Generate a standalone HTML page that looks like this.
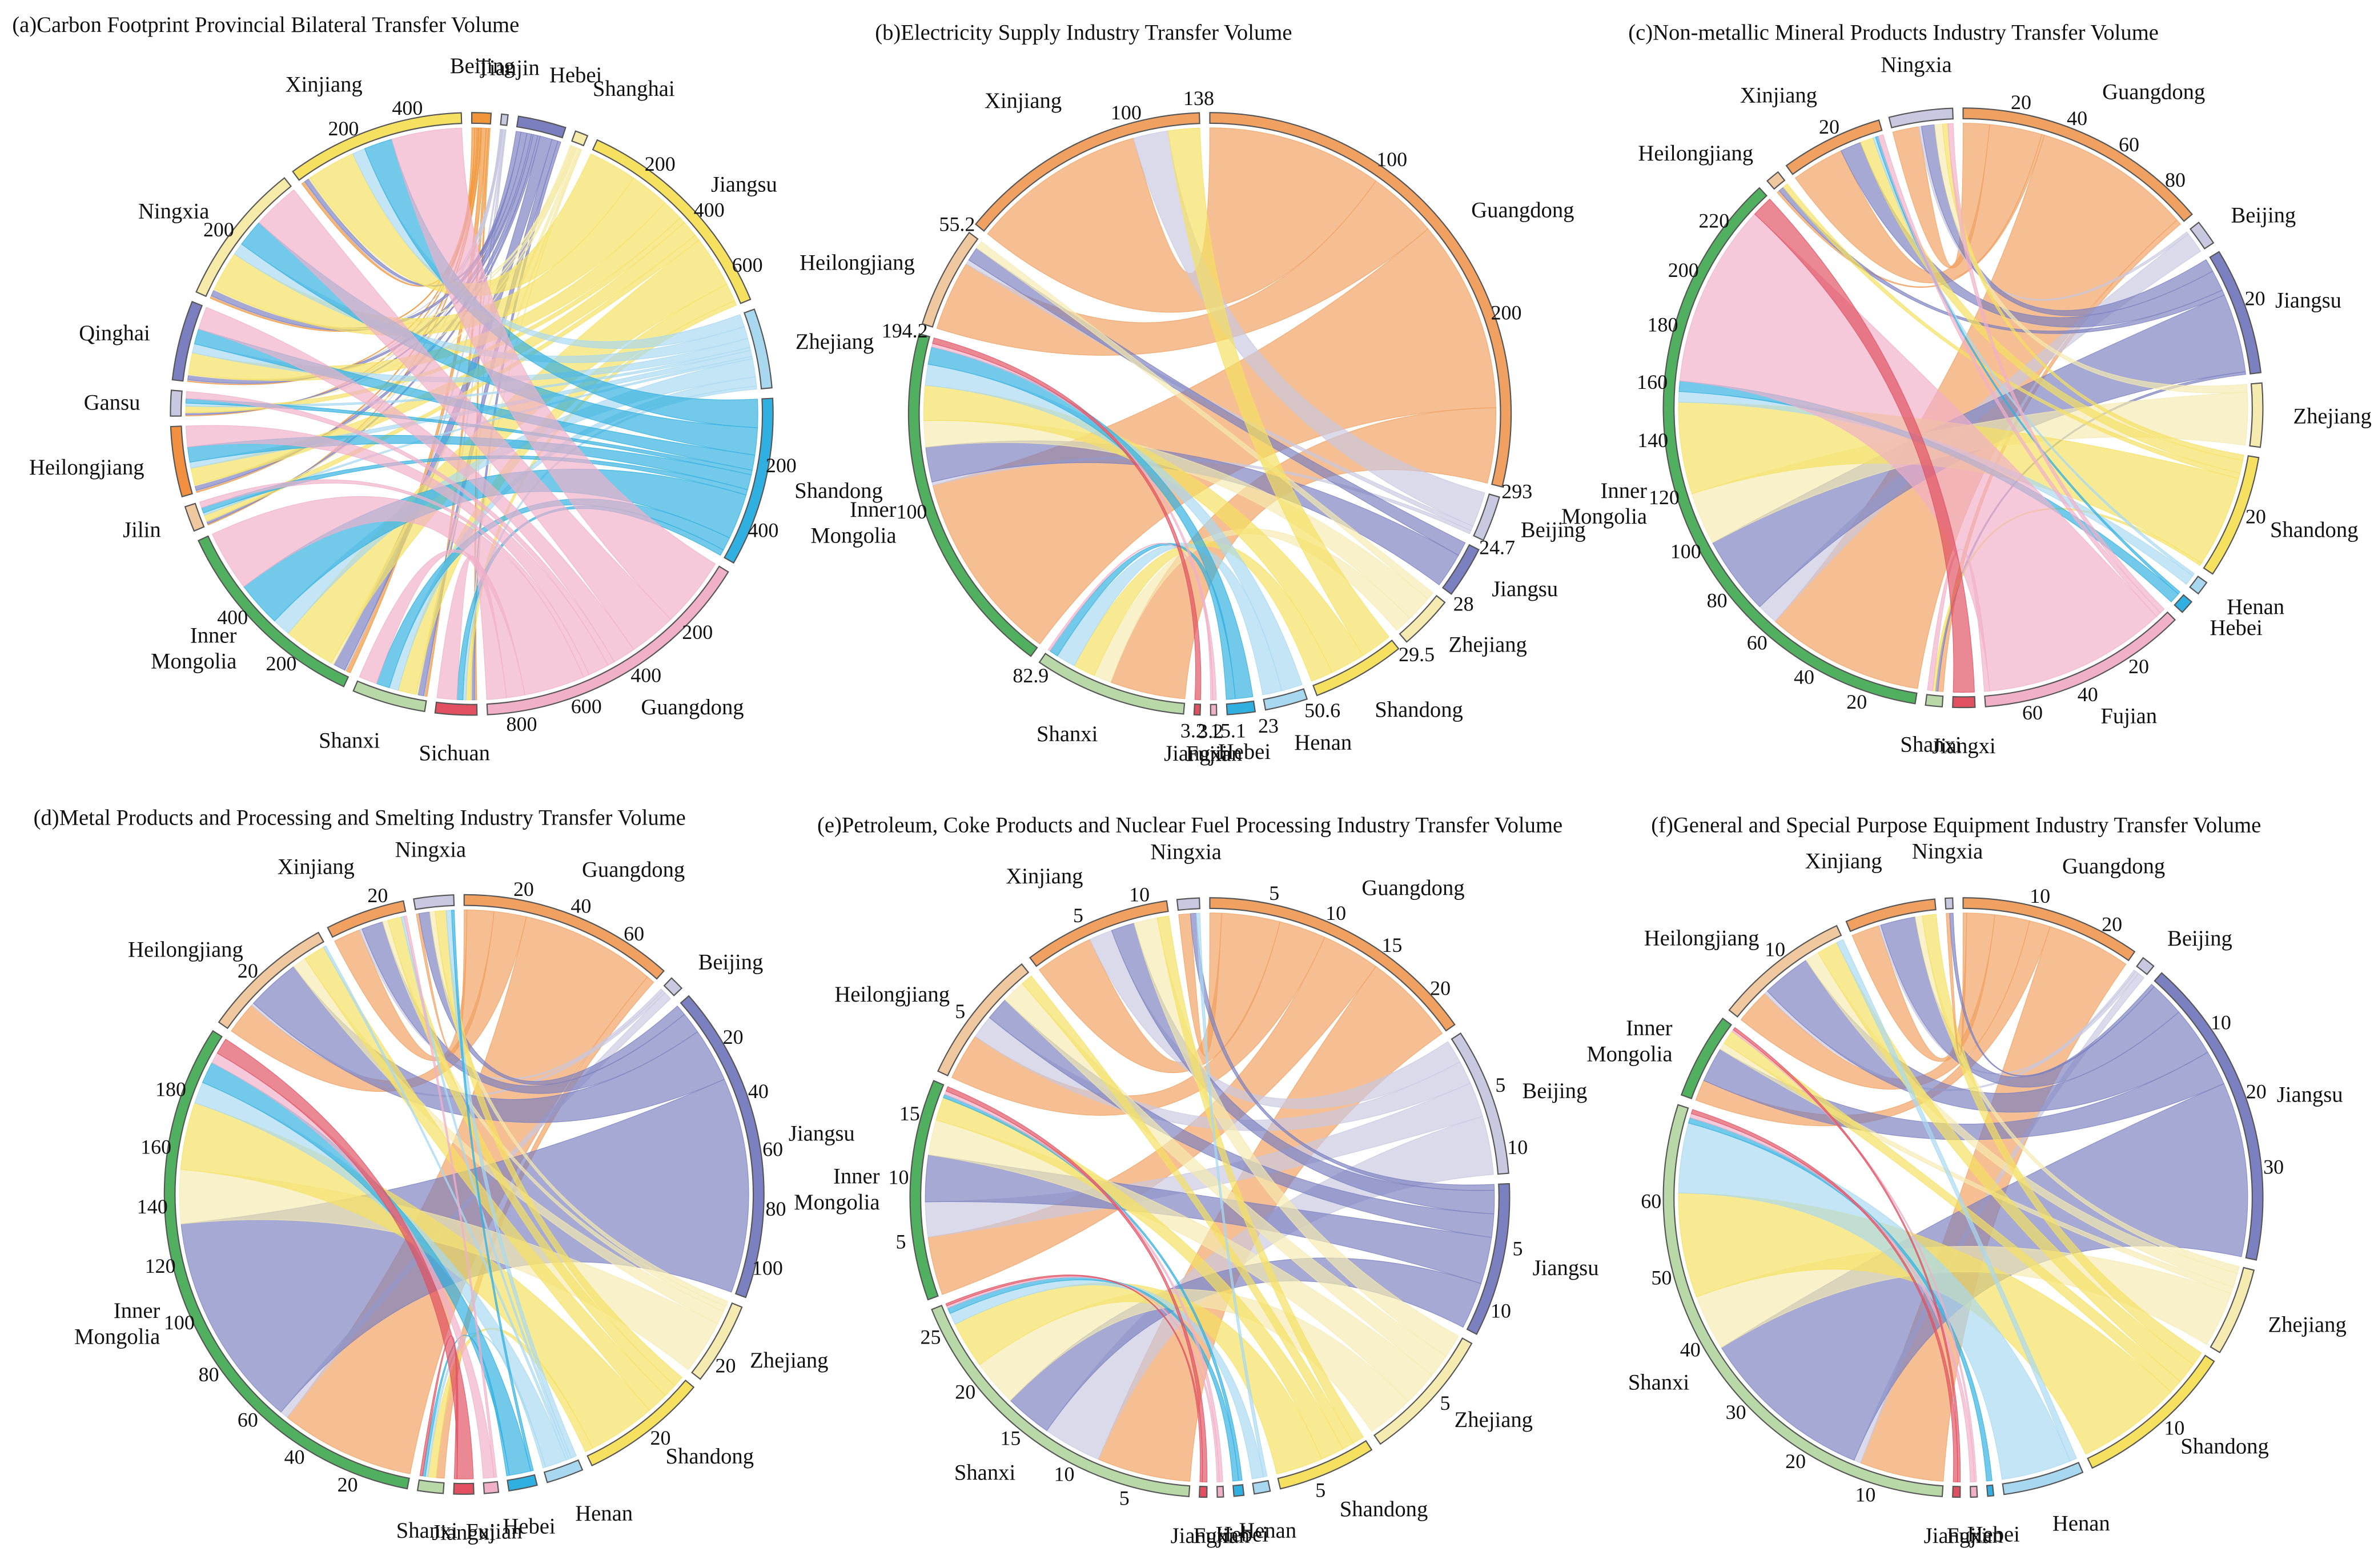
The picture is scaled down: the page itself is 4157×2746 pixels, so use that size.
<!DOCTYPE html>
<html><head><meta charset="utf-8"><style>
html,body{margin:0;padding:0;background:#fff;}
svg{display:block;font-family:"Liberation Serif",serif;}
</style></head><body>
<svg id="fig" width="4157" height="2746" viewBox="0 0 1560 1030.5" preserveAspectRatio="none" xmlns="http://www.w3.org/2000/svg"></svg>
<script>
// ---------- data ----------
const eastStd = ["Guangdong","Beijing","Jiangsu","Zhejiang","Shandong","Henan","Hebei","Fujian","Jiangxi"];
const westStd = ["Shanxi","Inner Mongolia","Heilongjiang","Xinjiang","Ningxia"];

const aEast = ["Beijing","Tianjin","Hebei","Shanghai","Jiangsu","Zhejiang","Shandong","Guangdong"];
const aWest = ["Sichuan","Shanxi","Inner Mongolia","Jilin","Heilongjiang","Gansu","Qinghai","Ningxia","Xinjiang"];
const aMatrix = [
 [5,2,10,3,15,10,20,65],
 [8,3,20,5,60,30,44,60],
 [15,5,40,10,170,60,150,200],
 [3,1,8,2,20,8,18,20],
 [5,2,15,4,55,20,50,69],
 [3,1,6,2,20,10,15,23],
 [4,2,15,4,70,30,50,75],
 [7,2,20,5,130,40,90,156],
 [10,2,16,5,160,42,93,232]
];
const bWest = ["Shanxi","Inner Mongolia","Heilongjiang","Xinjiang"];
const bMatrix = [
 [43,0,0,10,12.6,11,5.1,1.24,0],
 [110,2,20,15,20,12,10,2,3.24],
 [40,2.7,8,4.5,0,0,0,0,0],
 [100,20,0,0,18,0,0,0,0]
];
const cMatrix = [
 [2,0,1,0,1,0,0,2,0],
 [60,8,30,20,35,4,4,70,8],
 [1,0,2,0,2,0,0,0,0],
 [20,0,8,0,5,1,1,2,0],
 [10,1,5,3,2,0,0,2,0]
];
const dMatrix = [
 [3,0,0,0,3,1,1,0,1],
 [50,3,80,20,25,8,8,4,6],
 [12,1,20,5,8,1,0,0,0],
 [10,1,8,2,5,1,0,1,0],
 [1,0,4,2,4,2,1,0,0]
];
const eMatrix = [
 [8,5,4,4,4,1,0.5,0.2,0.2],
 [5,3,4,3,2,0,0.3,0.3,0.4],
 [4,2,2,2,1,0,0,0,0],
 [5,2,2,2,1,0,0,0,0],
 [1,0,0.5,0,0,0.3,0,0,0]
];
const fMatrix = [
 [12,1,25,8,15,10,0.8,0.6,0.6],
 [3,0,5,1,2,0,0,0.3,0.4],
 [5,0.5,7,2,3,1,0,0,0],
 [4,0.3,5,1,2,0,0,0,0],
 [0.5,0,0.5,0,0,0,0,0,0]
];
const aColors = {"Beijing":"#f0953a","Tianjin":"#c8c8e0","Hebei":"#7b7fc0","Shanghai":"#f5eaa8","Jiangsu":"#f5e060","Zhejiang":"#a8d8f0","Shandong":"#30b0e0","Guangdong":"#f0b0c8","Sichuan":"#e05060","Shanxi":"#b8d8a8","Inner Mongolia":"#50b060","Jilin":"#f0c8a0","Heilongjiang":"#f09040","Gansu":"#c8c8e0","Qinghai":"#7b7fc0","Ningxia":"#f5eaa8","Xinjiang":"#f5e060"};
const stdColors = {"Guangdong":"#f0a060","Beijing":"#c8c8e0","Jiangsu":"#7b80c0","Zhejiang":"#f5eab0","Shandong":"#f5e060","Henan":"#a8d8f0","Hebei":"#30b0e0","Fujian":"#f0b0c8","Jiangxi":"#e05060","Shanxi":"#b8d8a8","Inner Mongolia":"#50b060","Heilongjiang":"#f0c8a0","Xinjiang":"#f0a060","Ningxia":"#c8c8e0"};

// ---------- drawing ----------
const NS="http://www.w3.org/2000/svg";
const svg=document.getElementById('fig');
function mk(tag,attrs,parent){const e=document.createElementNS(NS,tag);for(const k in attrs)e.setAttribute(k,attrs[k]);(parent||svg).appendChild(e);return e;}
function slug(s){return s.toLowerCase().replace(/[^a-z0-9]+/g,'-');}

function panel(key,title,tx,ty,cx,cy,r,west,east,matrix,colors,step,showTotals){
  const g=mk('g',{});
  
  
  const t=mk('text',{x:tx,y:ty,'font-size':14.5,fill:'#111'},g);
  t.textContent=title;
  
  
  const order=east.concat(west);
  const tot={};
  east.forEach((n,j)=>{tot[n]=matrix.reduce((s,row)=>s+row[j],0);});
  west.forEach((n,i)=>{tot[n]=matrix[i].reduce((s,v)=>s+v,0);});
  const sum=order.reduce((s,n)=>s+tot[n],0);
  const gap=2*Math.PI/180;
  const k=(2*Math.PI-gap*order.length)/sum;
  const start={};let a=0;
  order.forEach(n=>{start[n]=a;a+=tot[n]*k+gap;});
  const P=(ang,rr)=>[cx+rr*Math.sin(ang),cy-rr*Math.cos(ang)];
  const cur=Object.assign({},start);
  const rib=mk('g',{},g);
  const flows=[];
  west.forEach((w,i)=>{east.forEach((e,j)=>{const v=matrix[i][j];if(v>0)flows.push([w,e,v,i,j]);});});
  const segW={},segE={};
  flows.forEach(f=>{const s0=cur[f[0]];cur[f[0]]+=f[2]*k;segW[f[3]+'_'+f[4]]=[s0,cur[f[0]]];});
  for(let i=west.length-1;i>=0;i--){east.forEach((e,j)=>{const v=matrix[i][j];if(v>0){const s0=cur[e];cur[e]+=v*k;segE[i+'_'+j]=[s0,cur[e]];}});}
  flows.forEach(f=>{
    const key2=f[3]+'_'+f[4];const [s0,s1]=segW[key2];const [t0,t1]=segE[key2];
    const p=(x)=>x.map(v=>v.toFixed(2)).join(' ');
    const la1=(s1-s0)>Math.PI?1:0, la2=(t1-t0)>Math.PI?1:0;
    const d='M'+p(P(s0,r))+' A'+r+' '+r+' 0 '+la1+' 1 '+p(P(s1,r))+' Q'+cx+' '+cy+' '+p(P(t0,r))+' A'+r+' '+r+' 0 '+la2+' 1 '+p(P(t1,r))+' Q'+cx+' '+cy+' '+p(P(s0,r))+'Z';
    const col=colors[f[1]];
    const el=mk('path',{d:d,fill:col,'fill-opacity':0.68,stroke:col,'stroke-opacity':0.85,'stroke-width':0.4},rib);
    
    
  });
  order.forEach(n=>{
    const a0=start[n],a1=start[n]+tot[n]*k;
    const r1=r+3,r2=r+10;
    const la=(a1-a0)>Math.PI?1:0;
    const p=(x)=>x.map(v=>v.toFixed(2)).join(' ');
    const d='M'+p(P(a0,r1))+' A'+r1+' '+r1+' 0 '+la+' 1 '+p(P(a1,r1))+' L'+p(P(a1,r2))+' A'+r2+' '+r2+' 0 '+la+' 0 '+p(P(a0,r2))+'Z';
    const s=mk('path',{d:d,fill:colors[n],stroke:'#555','stroke-width':0.8},g);
    
    
    for(let v=step;v<tot[n]-step*0.35;v+=step){
      const an=a0+v*k;const q=P(an,r+18);
      const tt=mk('text',{x:q[0].toFixed(1),y:(q[1]+5).toFixed(1),'font-size':13.5,'text-anchor':'middle',fill:'#111'},g);
      tt.textContent=String(v);
      
      
    }
    if(showTotals){
      const q=P(a1,r+20);
      const tt=mk('text',{x:q[0].toFixed(1),y:(q[1]+5).toFixed(1),'font-size':13.5,'text-anchor':'middle',fill:'#111'},g);
      tt.textContent=String(Math.round(tot[n]*10)/10);
      
      
    }
    const mid=(a0+a1)/2;const q=P(mid,r+30);
    const sx=Math.sin(mid), cy2=Math.cos(mid);
    const anchor=sx>0.2?'start':(sx<-0.2?'end':'middle');
    const dy=cy2>0.8?-6:(cy2<-0.8?10:5);
    const words=n==='Inner Mongolia'?['Inner','Mongolia']:[n];
    words.forEach((w,wi)=>{
      const lt=mk('text',{x:q[0].toFixed(1),y:(q[1]+dy+(wi-(words.length-1)/2)*17).toFixed(1),'font-size':14.5,'text-anchor':anchor,fill:'#111'},g);
      lt.textContent=w;
      
      
    });
  });
}
panel('a','(a)Carbon Footprint Provincial Bilateral Transfer Volume',8,21,310,272,188,aWest,aEast,aMatrix,aColors,200,false);
panel('b','(b)Electricity Supply Industry Transfer Volume',575,26,795,272,188,bWest,eastStd,bMatrix,stdColors,100,true);
panel('c','(c)Non-metallic Mineral Products Industry Transfer Volume',1070,26,1290,268,187,westStd,eastStd,cMatrix,stdColors,20,false);
panel('d','(d)Metal Products and Processing and Smelting Industry Transfer Volume',22,542,305,785,187,westStd,eastStd,dMatrix,stdColors,20,false);
panel('e','(e)Petroleum, Coke Products and Nuclear Fuel Processing Industry Transfer Volume',537,547,795,787,187,westStd,eastStd,eMatrix,stdColors,5,false);
panel('f','(f)General and Special Purpose Equipment Industry Transfer Volume',1085,547,1290,787,187,westStd,eastStd,fMatrix,stdColors,10,false);
</script>
</body></html>
